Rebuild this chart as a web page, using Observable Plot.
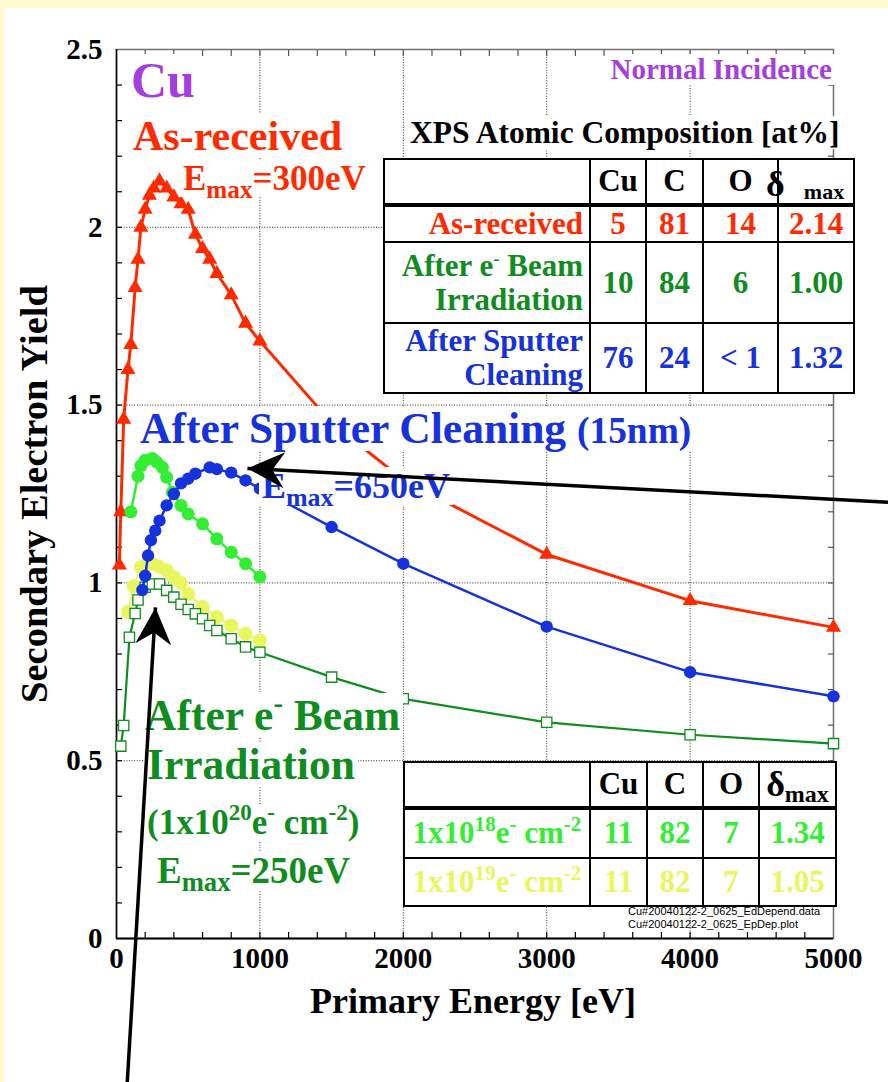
<!DOCTYPE html>
<html><head><meta charset="utf-8">
<script src="https://cdn.jsdelivr.net/npm/d3@7"></script>
<script src="https://cdn.jsdelivr.net/npm/@observablehq/plot@0.6"></script>
<style>
body{margin:0;background:#fffacd;}
#page{position:relative;width:888px;height:1082px;overflow:hidden;font-family:"Liberation Serif","Times New Roman",serif;font-weight:bold;}
#paper{position:absolute;left:4px;top:8px;right:0;bottom:0;background:#fff;}
.layer{position:absolute;left:0;top:0;}
.lbl{position:absolute;line-height:1;background:#fff;padding:1px 3px;white-space:nowrap;}
sub,sup{line-height:0;}
table.xps{position:absolute;border-collapse:collapse;table-layout:fixed;background:#fff;}
table.xps td{border:2.5px solid #000;text-align:center;font-size:31px;padding:0;line-height:1.1;white-space:nowrap;}
.file{position:absolute;left:628px;top:905px;font:11px/12.5px "Liberation Sans",Arial,sans-serif;color:#000;}
</style></head>
<body>
<div id="page"><div id="paper"></div></div>
<script>
// ---------------- data ----------------
const xGridTicks = [1000, 2000, 3000, 4000];
const yGridTicks = [0.5, 1, 1.5, 2];
const xTickValues = [0, 1000, 2000, 3000, 4000, 5000];
const xTickLabels = ["0", "1000", "2000", "3000", "4000", "5000"];
const yTickValues = [0, 0.5, 1, 1.5, 2, 2.5];
const yTickLabels = ["0", "0.5", "1", "1.5", "2", "2.5"];
const xMinorTicks = d3.range(200, 5000, 200);
const yMinorTicks = d3.range(1, 25).map(i => i / 10);

// As-received (red triangles)
const asRecE = [20, 30, 50, 80, 100, 130, 150, 170, 200, 230, 260, 300, 350, 400, 450, 500, 550, 600, 650, 700, 800, 900, 1000, 1500, 2000, 3000, 4000, 5000];
const asRecY = [1.05, 1.20, 1.46, 1.60, 1.67, 1.83, 1.91, 2.00, 2.05, 2.09, 2.11, 2.13, 2.11, 2.085, 2.066, 2.05, 1.98, 1.94, 1.91, 1.87, 1.81, 1.73, 1.68, 1.45, 1.29, 1.08, 0.95, 0.875];
// After sputter cleaning (blue circles)
const sputE = [180, 200, 220, 240, 270, 300, 350, 400, 450, 500, 550, 650, 700, 800, 900, 1000, 1500, 2000, 3000, 4000, 5000];
const sputY = [0.98, 1.02, 1.077, 1.12, 1.147, 1.175, 1.218, 1.25, 1.28, 1.293, 1.307, 1.325, 1.32, 1.31, 1.288, 1.265, 1.157, 1.054, 0.877, 0.749, 0.681];
// 1x10^18 e- cm-2 (bright green circles)
const dose18E = [100, 150, 170, 200, 250, 280, 320, 350, 390, 450, 500, 600, 700, 800, 900, 1000];
const dose18Y = [1.20, 1.30, 1.33, 1.345, 1.35, 1.34, 1.325, 1.297, 1.255, 1.218, 1.194, 1.166, 1.124, 1.086, 1.054, 1.017];
// 1x10^19 e- cm-2 (yellow circles)
const dose19E = [80, 120, 170, 200, 250, 300, 350, 400, 450, 500, 600, 700, 800, 900, 1000];
const dose19Y = [0.918, 0.99, 1.044, 1.05, 1.054, 1.045, 1.035, 1.016, 1.0, 0.969, 0.932, 0.904, 0.88, 0.857, 0.838];
// 1x10^20 e- cm-2 (dark green open squares)
const dose20E = [30, 50, 90, 130, 150, 200, 250, 300, 350, 400, 450, 500, 550, 600, 650, 700, 800, 900, 1000, 1500, 2000, 3000, 4000, 5000];
const dose20Y = [0.541, 0.599, 0.847, 0.914, 0.952, 0.988, 0.997, 0.997, 0.979, 0.96, 0.94, 0.925, 0.913, 0.899, 0.88, 0.866, 0.843, 0.82, 0.805, 0.735, 0.674, 0.608, 0.573, 0.548];

// XPS table 1
const xpsRowNames = ["As-received", "After e<sup style=\"font-size:0.6em;vertical-align:0.6em\">-</sup> Beam<br>Irradiation", "After Sputter<br>Cleaning"];
const xpsCu = ["5", "10", "76"];
const xpsC = ["81", "84", "24"];
const xpsO = ["14", "6", "&lt; 1"];
const xpsDmax = ["2.14", "1.00", "1.32"];
// XPS table 2
const doseRowNames = ["1x10<sup style=\"font-size:0.68em;vertical-align:0.55em\">18</sup>e<sup style=\"font-size:0.68em;vertical-align:0.55em\">-</sup> cm<sup style=\"font-size:0.68em;vertical-align:0.55em\">-2</sup>",
                      "1x10<sup style=\"font-size:0.68em;vertical-align:0.55em\">19</sup>e<sup style=\"font-size:0.68em;vertical-align:0.55em\">-</sup> cm<sup style=\"font-size:0.68em;vertical-align:0.55em\">-2</sup>"];
const doseCu = ["11", "11"];
const doseC = ["82", "82"];
const doseO = ["7", "7"];
const doseDmax = ["1.34", "1.05"];

// annotation arrows (data coordinates)
const arrows = [
  {x1: 5380, y1: 1.227, x2: 913, y2: 1.322},
  {x1: 75, y1: -0.405, x2: 272, y2: 0.931}
];

// ---------------- styles ----------------
const RED = "#ff2a00", BLUE = "#1632dc", DKGREEN = "#0f8d1e", GREEN = "#33ee33", YELLOW = "#e9f65e", PURPLE = "#a43ee0";
const SERIF = "'Liberation Serif','Times New Roman',serif";
const rows = (E, Y) => E.map((e, i) => ({e, y: Y[i]}));
const asRec = rows(asRecE, asRecY), sput = rows(sputE, sputY), d18 = rows(dose18E, dose18Y), d19 = rows(dose19E, dose19Y), d20 = rows(dose20E, dose20Y);
const page = document.getElementById("page");

const W = 888, H = 1082, ML = 116, MR = 55, MT = 49, MB = 144;
const common = {width: W, height: H, marginLeft: ML, marginRight: MR, marginTop: MT, marginBottom: MB,
  x: {domain: [0, 5000], label: null}, y: {domain: [0, 2.5], label: null},
  style: {background: "none", fontFamily: SERIF, overflow: "visible"}};

const chart = Plot.plot({
  ...common,
  marks: [
    Plot.ruleX(xGridTicks, {stroke: "#333", strokeWidth: 1, strokeDasharray: "1,1.6"}),
    Plot.ruleY(yGridTicks, {stroke: "#333", strokeWidth: 1, strokeDasharray: "1,1.6"}),
    Plot.frame({stroke: "#707070", strokeWidth: 1.5}),
    Plot.axisX(xMinorTicks, {anchor: "bottom", tickSize: -6, tickFormat: () => "", stroke: "#000", strokeWidth: 1.2}),
    Plot.axisX(xMinorTicks, {anchor: "top", tickSize: -6, tickFormat: () => "", stroke: "#555", strokeWidth: 1.2}),
    Plot.axisY(yMinorTicks, {anchor: "left", tickSize: -6, tickFormat: () => "", stroke: "#000", strokeWidth: 1.2}),
    Plot.axisY(yMinorTicks, {anchor: "right", tickSize: -6, tickFormat: () => "", stroke: "#555", strokeWidth: 1.2}),
    Plot.ruleX([0], {stroke: "#000", strokeWidth: 1.5}),
    Plot.ruleY([0], {stroke: "#000", strokeWidth: 1.8}),
    Plot.axisX(xTickValues, {anchor: "bottom", tickSize: 0, tickPadding: 9, tickFormat: d => xTickLabels[xTickValues.indexOf(d)], fontSize: 29, fontWeight: "bold", fill: "#000"}),
    Plot.axisY(yTickValues, {anchor: "left", tickSize: 0, tickPadding: 14, tickFormat: d => yTickLabels[yTickValues.indexOf(d)], fontSize: 29, fontWeight: "bold", fill: "#000"}),
    Plot.text(["Primary Energy [eV]"], {frameAnchor: "bottom", lineAnchor: "middle", textAnchor: "middle", dx: -2, dy: 63, fontSize: 36, fontWeight: "bold", fill: "#000"}),
    Plot.text(["Secondary Electron Yield"], {frameAnchor: "left", lineAnchor: "middle", textAnchor: "middle", dx: -82, rotate: -90, fontSize: 38.5, fontWeight: "bold", fill: "#000"}),
    // series
    Plot.line(asRec, {x: "e", y: "y", stroke: RED, strokeWidth: 3}),
    Plot.dot(asRec, {x: "e", y: "y", symbol: "triangle", r: 5.6, fill: RED}),
    Plot.line(d19, {x: "e", y: "y", stroke: YELLOW, strokeWidth: 2}),
    Plot.dot(d19, {x: "e", y: "y", r: 7, fill: YELLOW}),
    Plot.line(d20, {x: "e", y: "y", stroke: DKGREEN, strokeWidth: 2.2}),
    Plot.dot(d20, {x: "e", y: "y", symbol: "square", r: 5.8, fill: "#fff", stroke: DKGREEN, strokeWidth: 1.3}),
    Plot.line(d18, {x: "e", y: "y", stroke: GREEN, strokeWidth: 2.5}),
    Plot.dot(d18, {x: "e", y: "y", r: 6.5, fill: GREEN}),
    Plot.line(sput, {x: "e", y: "y", stroke: BLUE, strokeWidth: 2.5}),
    Plot.dot(sput, {x: "e", y: "y", r: 6.2, fill: BLUE})
  ]
});
chart.classList.add("layer");
page.appendChild(chart);

// ---------------- text annotations (HTML, white boxes) ----------------
const SUB = s => `<sub style="font-size:0.72em;vertical-align:-0.3em">${s}</sub>`;
const SUP = s => `<sup style="font-size:0.66em;vertical-align:0.6em">${s}</sup>`;
const notes = [
  {html: "Cu", x: 131, base: 97, fs: 50, color: PURPLE},
  {html: "Normal Incidence", right: 832, base: 79, fs: 29, color: PURPLE},
  {html: "As-received", x: 133, base: 150, fs: 42, color: RED},
  {html: "E" + SUB("max") + "=300eV", x: 183, base: 190, fs: 35, color: RED},
  {html: "XPS Atomic Composition [at%]", x: 410, base: 143, fs: 31.5, color: "#000"},
  {html: "After Sputter Cleaning <span style=\"font-size:0.86em\">(15nm)</span>", x: 140, base: 443, fs: 43.5, color: BLUE},
  {html: "E" + SUB("max") + "=650eV", x: 262, base: 498, fs: 36, color: BLUE},
  {html: "After e" + SUP("-") + " Beam", x: 145, base: 730, fs: 43.5, color: DKGREEN},
  {html: "Irradiation", x: 147, base: 779, fs: 43.5, color: DKGREEN},
  {html: "(1x10" + SUP("20") + "e" + SUP("-") + " cm" + SUP("-2") + ")", x: 147, base: 834, fs: 35, color: DKGREEN},
  {html: "E" + SUB("max") + "=250eV", x: 157, base: 883, fs: 37, color: DKGREEN}
];
for (const n of notes) {
  const d = document.createElement("div");
  d.className = "lbl";
  d.innerHTML = n.html;
  d.style.fontSize = n.fs + "px";
  d.style.color = n.color;
  d.style.top = (n.base - 1 - 0.8375 * n.fs) + "px";
  if (n.right != null) d.style.right = (W - n.right - 3) + "px"; else d.style.left = (n.x - 3) + "px";
  page.appendChild(d);
}

// ---------------- tables ----------------
function makeTable(left, top, colW, headH, rowH, header, names, cols, colors) {
  const t = document.createElement("table");
  t.className = "xps";
  t.style.left = left + "px"; t.style.top = top + "px";
  t.style.width = d3.sum(colW) + "px";
  let h = "<colgroup>" + colW.map(w => `<col style="width:${w}px">`).join("") + "</colgroup>";
  h += `<tr style="height:${headH}px">` + header.map(c => `<td style="border-bottom-width:4px;position:relative">${c}</td>`).join("") + "</tr>";
  names.forEach((nm, i) => {
    h += `<tr style="height:${rowH[i]}px;color:${colors[i]}"><td style="text-align:right;padding-right:6px">${nm}</td>` +
      cols.map(c => `<td>${c[i]}</td>`).join("") + "</tr>";
  });
  t.innerHTML = h;
  page.appendChild(t);
  return t;
}
makeTable(383, 158, [206, 56, 57, 75, 76], 46, [37, 81, 68],
  ["", "Cu", "C", "O<span style=\"position:absolute;left:62px;top:5px;font-size:36px\">&delta;</span>", "<span style=\"font-size:22px;position:relative;left:8px;top:8px\">max</span>"],
  xpsRowNames, [xpsCu, xpsC, xpsO, xpsDmax], [RED, DKGREEN, BLUE]);
const t2 = makeTable(403, 761, [186, 57, 56, 56, 77], 46, [50, 48],
  ["", "Cu", "C", "O", "<span style=\"font-size:36px\">&delta;</span><span style=\"font-size:24px;position:relative;top:6px\">max</span>"],
  doseRowNames, [doseCu, doseC, doseO, doseDmax], [GREEN, YELLOW]);
t2.querySelectorAll("tr td:first-child").forEach(td => { td.style.textAlign = "center"; td.style.paddingRight = "0"; });

const file = document.createElement("div");
file.className = "file";
file.innerHTML = "Cu#20040122-2_0625_EdDepend.data<br>Cu#20040122-2_0625_EpDep.plot";
page.appendChild(file);

// ---------------- arrows (overlay) ----------------
const sx = chart.scale("x"), sy = chart.scale("y");
const px = d3.scaleLinear(sx.domain, sx.range), py = d3.scaleLinear(sy.domain, sy.range);
const arrowHead = {draw(ctx) { ctx.moveTo(0, 0); ctx.lineTo(18, 37); ctx.lineTo(0, 25); ctx.lineTo(-18, 37); ctx.closePath(); }};
const headAngle = d => Math.atan2(px(d.x2) - px(d.x1), -(py(d.y2) - py(d.y1))) * 180 / Math.PI;
const over = Plot.plot({
  ...common,
  x: {domain: [0, 5000], axis: null}, y: {domain: [0, 2.5], axis: null},
  marks: [
    Plot.link(arrows, {x1: "x1", y1: "y1", x2: "x2", y2: "y2", stroke: "#000", strokeWidth: 3.5}),
    Plot.dot(arrows, {x: "x2", y: "y2", symbol: arrowHead, r: 10, fill: "#000", stroke: "none", rotate: headAngle})
  ]
});
over.classList.add("layer");
over.style.pointerEvents = "none";
page.appendChild(over);
</script>
</body></html>
